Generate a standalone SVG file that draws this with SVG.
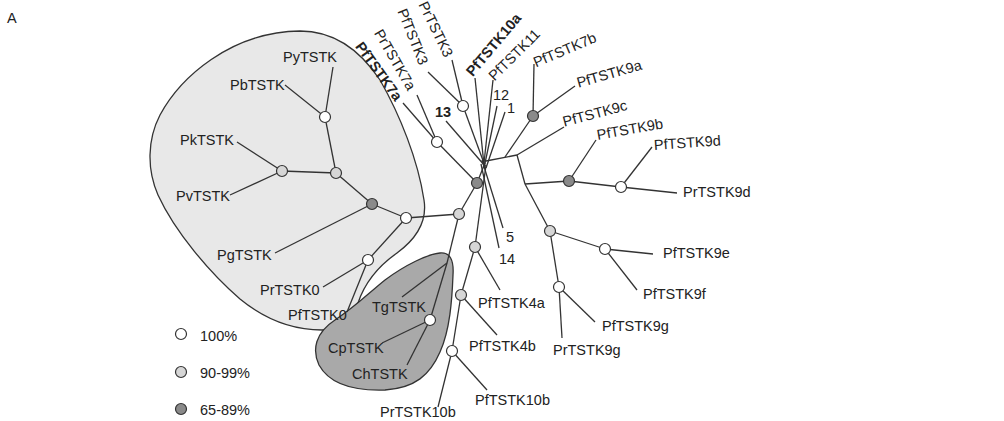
<svg xmlns="http://www.w3.org/2000/svg" width="1004" height="421" viewBox="0 0 1004 421">
<style>
text{font-family:"Liberation Sans",Arial,sans-serif;font-size:14.5px;fill:#222}
.b{font-weight:bold}
.r{dominant-baseline:central}
.e{text-anchor:end}
line{stroke:#333;stroke-width:1.3;fill:none}
circle{stroke:#333;stroke-width:1.2}
.w{fill:#fff}.l{fill:#d6d6d6}.d{fill:#8a8a8a}
</style>
<rect width="1004" height="421" fill="#fff"/>
<text x="7" y="23" font-size="15">A</text>
<g id="blobs">
<path d="M300,31 C335,31 360,50 380,80 C400,115 418,160 424,200 C428,225 412,242 397,253 C377,267 364,285 358,303 C352,321 348,330 322,330 C290,330 262,317 240,299 C210,273 175,232 158,195 C147,170 147,140 160,115 C180,78 230,32 300,31 Z" fill="#e8e8e8" stroke="#333" stroke-width="1.3"/>
<path d="M440,253 C450,252 454,260 453,275 C452,300 450,330 440,352 C430,375 415,388 385,390 C355,391 330,385 319,365 C312,350 315,333 335,320 C355,307 370,292 385,280 C405,265 428,254 440,253 Z" fill="#a9a9a9" stroke="#333" stroke-width="1.3"/>
</g>
<g id="connectors">
<line x1="325" y1="117" x2="333" y2="67"/>
<line x1="325" y1="117" x2="285" y2="85"/>
<line x1="325" y1="117" x2="336" y2="173"/>
<line x1="282" y1="171" x2="237" y2="142"/>
<line x1="282" y1="171" x2="230" y2="195"/>
<line x1="282" y1="171" x2="336" y2="173"/>
<line x1="336" y1="173" x2="372" y2="204"/>
<line x1="372" y1="204" x2="275" y2="253"/>
<line x1="372" y1="204" x2="406" y2="218"/>
<line x1="406" y1="218" x2="368" y2="260"/>
<line x1="368" y1="260" x2="323" y2="287"/>
<line x1="368" y1="260" x2="347" y2="312"/>
<line x1="406" y1="218" x2="459" y2="214"/>
<line x1="459" y1="214" x2="447" y2="263"/>
<line x1="447" y1="263" x2="402" y2="297"/>
<line x1="447" y1="263" x2="430" y2="320"/>
<line x1="430" y1="320" x2="382" y2="343"/>
<line x1="430" y1="320" x2="407" y2="365"/>
<line x1="459" y1="214" x2="477" y2="183"/>
<line x1="477" y1="183" x2="485" y2="163"/>
<line x1="477" y1="183" x2="437" y2="142"/>
<line x1="437" y1="142" x2="403" y2="103"/>
<line x1="437" y1="142" x2="417" y2="95"/>
<line x1="485" y1="166" x2="446" y2="121"/>
<line x1="485" y1="166" x2="463" y2="106"/>
<line x1="463" y1="106" x2="428" y2="72"/>
<line x1="463" y1="106" x2="452" y2="60"/>
<line x1="484" y1="165" x2="475" y2="78"/>
<line x1="484" y1="163" x2="493" y2="80"/>
<line x1="484" y1="168" x2="497" y2="106"/>
<line x1="486" y1="168" x2="505" y2="112"/>
<line x1="482" y1="160" x2="503" y2="228"/>
<line x1="481" y1="164" x2="499" y2="248"/>
<line x1="486" y1="165" x2="475" y2="247"/>
<line x1="475" y1="247" x2="500" y2="290"/>
<line x1="475" y1="247" x2="461" y2="295"/>
<line x1="461" y1="295" x2="497" y2="335"/>
<line x1="461" y1="295" x2="452" y2="351"/>
<line x1="452" y1="351" x2="487" y2="390"/>
<line x1="452" y1="351" x2="438" y2="407"/>
<line x1="486" y1="161" x2="517" y2="155"/>
<line x1="505" y1="157" x2="533" y2="116"/>
<line x1="533" y1="116" x2="534" y2="64"/>
<line x1="533" y1="116" x2="575" y2="86"/>
<line x1="517" y1="155" x2="564" y2="127"/>
<line x1="517" y1="155" x2="525" y2="184"/>
<line x1="525" y1="184" x2="569" y2="181"/>
<line x1="569" y1="181" x2="596" y2="140"/>
<line x1="569" y1="181" x2="621" y2="187"/>
<line x1="621" y1="187" x2="652" y2="147"/>
<line x1="621" y1="187" x2="677" y2="193"/>
<line x1="525" y1="184" x2="550" y2="231"/>
<line x1="550" y1="231" x2="605" y2="249"/>
<line x1="605" y1="249" x2="653" y2="254"/>
<line x1="605" y1="249" x2="637" y2="290"/>
<line x1="550" y1="231" x2="559" y2="287"/>
<line x1="559" y1="287" x2="595" y2="322"/>
<line x1="559" y1="287" x2="562" y2="338"/>
</g>
<g id="nodes">
<circle class="w" cx="325" cy="117" r="5.5"/>
<circle class="l" cx="282" cy="171" r="5.5"/>
<circle class="l" cx="336" cy="173" r="5.5"/>
<circle class="d" cx="372" cy="204" r="5.5"/>
<circle class="w" cx="406" cy="218" r="5.5"/>
<circle class="w" cx="368" cy="260" r="5.5"/>
<circle class="l" cx="459" cy="214" r="5.5"/>
<circle class="d" cx="477" cy="183" r="5.5"/>
<circle class="w" cx="437" cy="142" r="5.5"/>
<circle class="w" cx="463" cy="106" r="5.5"/>
<circle class="d" cx="533" cy="116" r="5.5"/>
<circle class="d" cx="569" cy="181" r="5.5"/>
<circle class="w" cx="621" cy="187" r="5.5"/>
<circle class="l" cx="550" cy="231" r="5.5"/>
<circle class="w" cx="605" cy="249" r="5.5"/>
<circle class="w" cx="559" cy="287" r="5.5"/>
<circle class="l" cx="475" cy="247" r="5.5"/>
<circle class="l" cx="461" cy="295" r="5.5"/>
<circle class="w" cx="452" cy="351" r="5.5"/>
<circle class="w" cx="430" cy="320" r="5.5"/>
</g>
<g id="labels">
<g id="PyTSTK"><text x="283" y="62">PyTSTK</text></g>
<g id="PbTSTK"><text x="230" y="90">PbTSTK</text></g>
<g id="PkTSTK"><text x="180" y="145">PkTSTK</text></g>
<g id="PvTSTK"><text x="176" y="201">PvTSTK</text></g>
<g id="PgTSTK"><text x="217" y="260">PgTSTK</text></g>
<g id="PrTSTK0"><text x="260" y="295">PrTSTK0</text></g>
<g id="PfTSTK0"><text x="288" y="320">PfTSTK0</text></g>
<g id="TgTSTK"><text x="372" y="312">TgTSTK</text></g>
<g id="CpTSTK"><text x="328" y="353">CpTSTK</text></g>
<g id="ChTSTK"><text x="352" y="379">ChTSTK</text></g>
<g id="PrTSTK10b"><text x="380" y="417">PrTSTK10b</text></g>
<g id="PfTSTK10b"><text x="475" y="405">PfTSTK10b</text></g>
<g id="PfTSTK4b"><text x="469" y="351">PfTSTK4b</text></g>
<g id="PfTSTK4a"><text x="478" y="308">PfTSTK4a</text></g>
<g id="PrTSTK9g"><text x="553" y="355">PrTSTK9g</text></g>
<g id="PfTSTK9g"><text x="602" y="331">PfTSTK9g</text></g>
<g id="PfTSTK9f"><text x="643" y="299">PfTSTK9f</text></g>
<g id="PfTSTK9e"><text x="663" y="258">PfTSTK9e</text></g>
<g id="PrTSTK9d"><text x="683" y="197">PrTSTK9d</text></g>
<g id="n13"><text class="b" x="435" y="117">13</text></g>
<g id="n12"><text x="493" y="100">12</text></g>
<g id="n1"><text x="507" y="113">1</text></g>
<g id="n5"><text x="506" y="242">5</text></g>
<g id="n14"><text x="499" y="264">14</text></g>
<g id="PfTSTK7a"><text class="b r e" transform="translate(399,99) rotate(54)">PfTSTK7a</text></g>
<g id="PrTSTK7a"><text class="r e" transform="translate(412,89) rotate(60)">PrTSTK7a</text></g>
<g id="PfTSTK3"><text class="r e" transform="translate(424,64) rotate(68)">PfTSTK3</text></g>
<g id="PrTSTK3"><text class="r e" transform="translate(449,56) rotate(64)">PrTSTK3</text></g>
<g id="PfTSTK10a"><text class="b r" transform="translate(469,74) rotate(-50)">PfTSTK10a</text></g>
<g id="PfTSTK11"><text class="r" transform="translate(491,78) rotate(-45)">PfTSTK11</text></g>
<g id="PfTSTK7b"><text class="r" transform="translate(534,63) rotate(-23)">PfTSTK7b</text></g>
<g id="PfTSTK9a"><text class="r" transform="translate(577,83) rotate(-16)">PfTSTK9a</text></g>
<g id="PfTSTK9c"><text class="r" transform="translate(563,122) rotate(-15)">PfTSTK9c</text></g>
<g id="PfTSTK9b"><text class="r" transform="translate(597,135) rotate(-10)">PfTSTK9b</text></g>
<g id="PfTSTK9d"><text class="r" transform="translate(654,145) rotate(-4)">PfTSTK9d</text></g>
</g>
<g id="legend">
<circle class="w" cx="181" cy="334" r="5.5"/>
<circle class="l" cx="181" cy="372" r="5.5"/>
<circle class="d" cx="181" cy="409" r="5.5"/>
<text x="200" y="341">100%</text>
<text x="200" y="378">90-99%</text>
<text x="200" y="415">65-89%</text>
</g>
</svg>
